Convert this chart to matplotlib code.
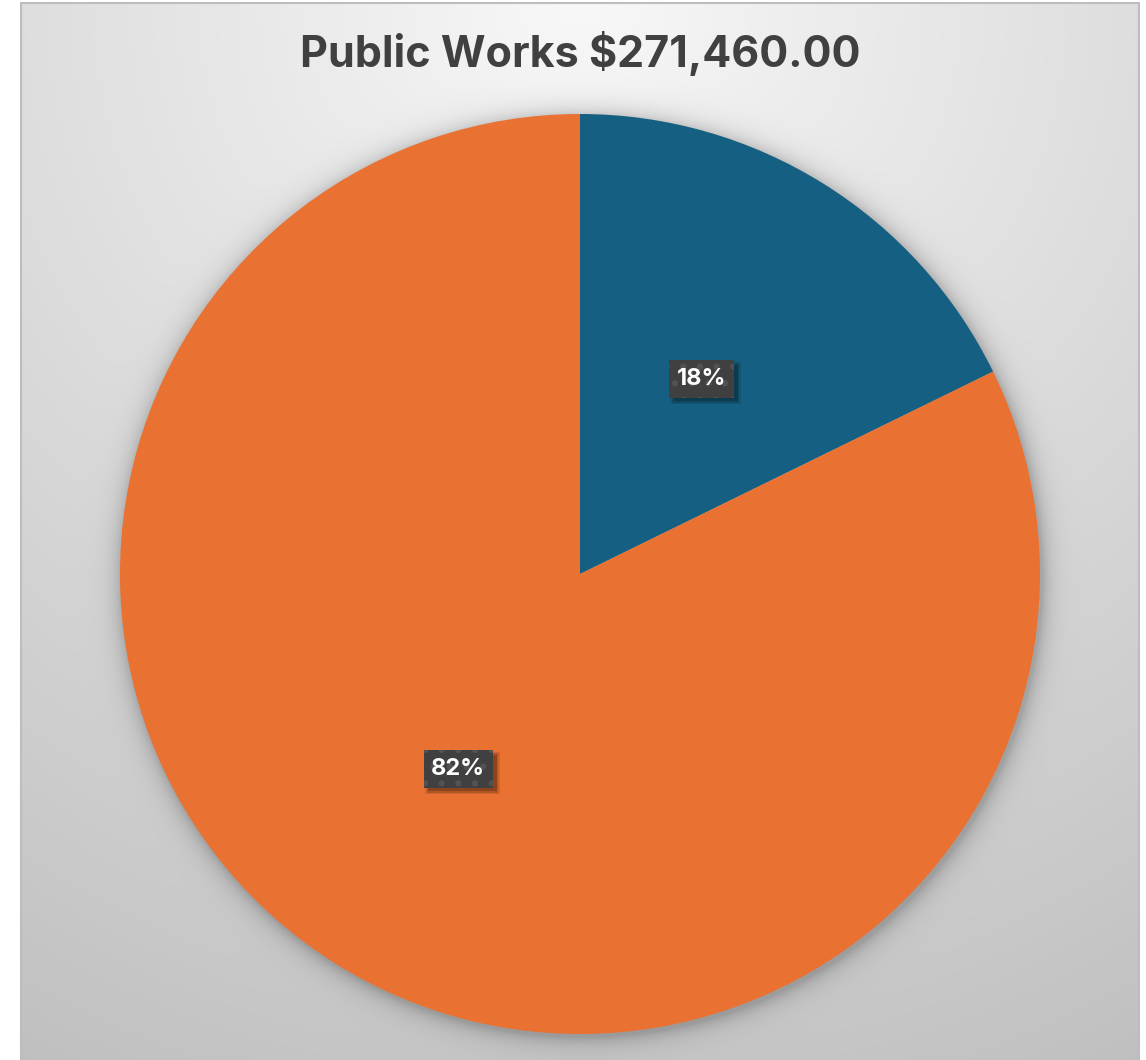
import numpy as np
import matplotlib
matplotlib.use("Agg")
import matplotlib.pyplot as plt
from matplotlib.patches import Rectangle

plt.rcParams["font.family"] = ["Inter", "DejaVu Sans"]
plt.rcParams["hatch.linewidth"] = 2.0

TITLE = "Public Works $271,460.00"
categories = ["Share A", "Share B"]
amounts = [48180.00, 223280.00]  # dollars, sums to the title total
colors = ["#156082", "#E97132"]

W, H = 1146, 1060
fig = plt.figure(figsize=(W / 100, H / 100), dpi=100)
fig.patch.set_facecolor("white")
ax = fig.add_axes([0, 0, 1, 1])
ax.set_xlim(0, W)
ax.set_ylim(0, H)
ax.axis("off")

# chart area: radial grey gradient, light at the top centre
x0, x1, y0, y1 = 21, 1139, 0, 1057
cx, cy, R = 580, 486, 460
gx, gy = np.meshgrid(np.arange(x0, x1) + 0.5, np.arange(y0, y1) + 0.5)
dist = np.hypot(gx - 580, gy - 1060)
grey = np.clip(248 - 0.047 * dist, 185, 250) / 255.0

# soft shadow round the pie
edge = np.hypot(gx - cx - 2, gy - cy + 3) - R
shadow = np.where(edge > 0, 0.22 * np.exp(-edge / 10.0), 0.22)
grey = grey * (1 - shadow)
img = np.dstack([grey, grey, grey])
ax.imshow(img, extent=(x0, x1, y0, y1), origin="lower", zorder=0,
          interpolation="bilinear")
ax.add_patch(Rectangle((x0, y0 - 5), x1 - x0, y1 - y0 + 5, fill=False,
                       edgecolor="#bdbdbd", linewidth=1.5, zorder=1))

wedges, texts, autotexts = ax.pie(
    amounts, colors=colors, startangle=90, counterclock=False,
    center=(cx, cy), radius=R, autopct="%1.0f%%", pctdistance=0.5,
    wedgeprops=dict(linewidth=0), frame=True,
    textprops=dict(color="white", fontsize=17, fontweight="bold"),
)
ax.set_xlim(0, W)
ax.set_ylim(0, H)
ax.set_aspect("auto")
for w in wedges:
    w.set_zorder(2)

for t in autotexts:
    t.set_zorder(5)
    t.set_bbox(dict(boxstyle="square,pad=0.33", facecolor="#404040",
                    edgecolor="#525252", linewidth=0, hatch="."))

ax.text(580, H - 54, TITLE, ha="center", va="center", fontsize=31,
        fontweight="bold", color="#404040", zorder=5)

# drop shadows under the label boxes
fig.canvas.draw()
renderer = fig.canvas.get_renderer()
for t in autotexts:
    bb = t.get_bbox_patch().get_window_extent(renderer)
    for grow, alpha in [(2.5, 0.10), (1.0, 0.15), (-0.5, 0.20)]:
        ax.add_patch(Rectangle((bb.x0 + 4 - grow, bb.y0 - 4 - grow),
                               bb.width + 2 * grow, bb.height + 2 * grow,
                               facecolor="black", alpha=alpha, linewidth=0,
                               zorder=4))

fig.savefig("out.png", dpi=100)
